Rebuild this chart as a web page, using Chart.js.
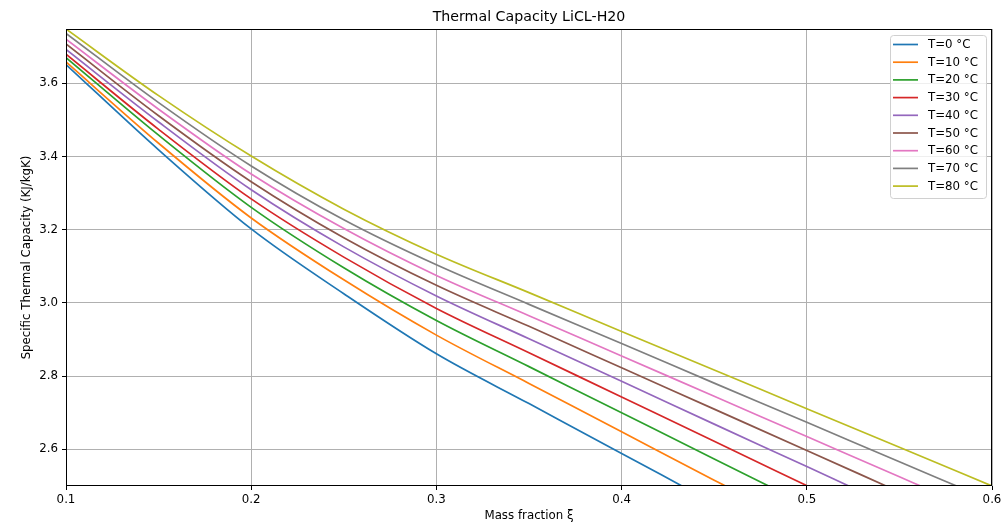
<!DOCTYPE html>
<html>
<head>
<meta charset="utf-8">
<title>Thermal Capacity LiCL-H20</title>
<script src="https://cdn.jsdelivr.net/npm/chart.js@4.4.0/dist/chart.umd.min.js"></script>
<style>
  html, body { margin:0; padding:0; background:#fff; }
  #chart { display:block; }
</style>
</head>
<body>
<canvas id="chart" width="1004" height="524"></canvas>
<script>
// Values (cp in kJ/kgK against mass fraction)
const XI = [0.10, 0.15, 0.20, 0.25, 0.30, 0.35, 0.40, 0.45, 0.50, 0.55];
const TEMPS = [0, 10, 20, 30, 40, 50, 60, 70, 80];

const CP_T0  = [3.651, 3.418, 3.202, 3.025, 2.861, 2.725, 2.589, null,  null,  null ];
const CP_T10 = [3.658, 3.436, 3.232, 3.063, 2.912, 2.780, 2.648, 2.516, null,  null ];
const CP_T20 = [3.670, 3.458, 3.261, 3.096, 2.952, 2.826, 2.700, 2.574, null,  null ];
const CP_T30 = [3.679, 3.474, 3.284, 3.125, 2.985, 2.864, 2.743, 2.622, null,  null ];
const CP_T40 = [3.692, 3.494, 3.309, 3.153, 3.019, 2.902, 2.786, 2.669, 2.553, null ];
const CP_T50 = [3.707, 3.511, 3.331, 3.178, 3.048, 2.936, 2.823, 2.710, 2.597, null ];
const CP_T60 = [3.720, 3.529, 3.352, 3.203, 3.075, 2.965, 2.855, 2.745, 2.635, 2.525];
const CP_T70 = [3.736, 3.547, 3.374, 3.227, 3.104, 2.996, 2.889, 2.781, 2.674, 2.566];
const CP_T80 = [3.748, 3.566, 3.401, 3.256, 3.133, 3.028, 2.922, 2.817, 2.711, 2.606];

// where each curve leaves the bottom of the axes (cp = 2.5)
const XI_END = [0.4326, 0.4561, 0.4794, 0.5004, 0.5227, 0.5428, 0.5615, 0.5809, 0.6000];
const CP_END = 2.5;

const X_TICKS = [0.1, 0.2, 0.3, 0.4, 0.5, 0.6];
const Y_TICKS = [2.6, 2.8, 3.0, 3.2, 3.4, 3.6];

const COLORS = ['#1f77b4','#ff7f0e','#2ca02c','#d62728','#9467bd','#8c564b','#e377c2','#7f7f7f','#bcbd22'];
const SERIES = [CP_T0, CP_T10, CP_T20, CP_T30, CP_T40, CP_T50, CP_T60, CP_T70, CP_T80];

const TITLE = 'Thermal Capacity LiCL-H20';
const FONT = 'DejaVu Sans';
const FS = 11.8;     // tick / label / legend size
const FS_TITLE = 14.2;

function buildPoints(vals, xEnd){
  const pts = [];
  vals.forEach((v,i)=>{ if(v !== null) pts.push({x: XI[i], y: v}); });
  pts.push({x: xEnd, y: CP_END});
  return pts;
}

const datasets = SERIES.map((vals,i)=>({
  label: `T=${TEMPS[i]} °C`,
  data: buildPoints(vals, XI_END[i]),
  borderColor: COLORS[i],
  backgroundColor: COLORS[i],
  borderWidth: 1.7,
  pointRadius: 0,
  fill: false,
  cubicInterpolationMode: 'monotone'
}));

// axes frame, title over the axes, legend box in the upper right
const frameAndLegend = {
  id: 'frameAndLegend',
  afterDatasetsDraw(chart){
    const {ctx, chartArea:a} = chart;
    ctx.save();
    ctx.strokeStyle = '#000';
    ctx.lineWidth = 1;
    const l = Math.round(a.left)+0.5, t = Math.round(a.top)+0.5;
    const r = Math.round(a.right)-0.5, b = Math.round(a.bottom)-0.5;
    ctx.strokeRect(l, t, r-l, b-t);

    // title centred on the axes
    ctx.fillStyle = '#000';
    ctx.font = `${FS_TITLE}px "${FONT}"`;
    ctx.textAlign = 'center';
    ctx.textBaseline = 'middle';
    ctx.fillText(TITLE, (a.left+a.right)/2, 17);

    // legend
    ctx.font = `${FS}px "${FONT}"`;
    const rowH = 17.7;
    const w = 96, h = 163;
    const x0 = Math.round(a.right - 6 - w);
    const y0 = Math.round(a.top + 6);

    ctx.beginPath();
    ctx.roundRect(x0+0.5, y0+0.5, w, h, 3);
    ctx.fillStyle = 'rgba(255,255,255,0.8)';
    ctx.fill();
    ctx.strokeStyle = '#d0d0d0';
    ctx.lineWidth = 1;
    ctx.stroke();

    ctx.textAlign = 'left';
    chart.data.datasets.forEach((d,i)=>{
      const cy = y0 + 9.5 + i*rowH;
      ctx.beginPath();
      ctx.moveTo(x0+3, cy);
      ctx.lineTo(x0+28, cy);
      ctx.strokeStyle = d.borderColor;
      ctx.lineWidth = 1.7;
      ctx.stroke();
      ctx.fillStyle = '#000';
      ctx.fillText(d.label, x0+38, cy+0.5);
    });
    ctx.restore();
  }
};

new Chart(document.getElementById('chart'), {
  type: 'line',
  data: { datasets },
  plugins: [frameAndLegend],
  options: {
    responsive: false,
    animation: false,
    devicePixelRatio: 1,
    layout: { padding: { left: 0, right: 12, top: 29, bottom: 0 } },
    plugins: {
      legend: { display: false },
      tooltip: { enabled: false },
      title: { display: false }
    },
    scales: {
      x: {
        type: 'linear',
        min: 0.1, max: 0.6,
        afterBuildTicks: s => { s.ticks = X_TICKS.map(v=>({value:v})); },
        afterFit: s => { s.height = 38; s.paddingLeft = 0; s.paddingRight = 0; },
        ticks: {
          color: '#000', padding: 3, maxRotation: 0,
          font: { family: FONT, size: FS },
          callback: v => v.toFixed(1)
        },
        grid: { color: '#b0b0b0', lineWidth: 1, tickLength: 4, tickColor: '#000' },
        border: { display: false },
        title: {
          display: true, text: 'Mass fraction ξ', color: '#000',
          font: { family: FONT, size: FS },
          padding: { top: 0, bottom: 1 }
        }
      },
      y: {
        type: 'linear',
        min: 2.5, max: 3.748,
        afterBuildTicks: s => { s.ticks = Y_TICKS.map(v=>({value:v})); },
        afterFit: s => { s.width = 66; s.paddingTop = 0; s.paddingBottom = 0; },
        ticks: {
          color: '#000', padding: 4,
          font: { family: FONT, size: FS },
          callback: v => v.toFixed(1)
        },
        grid: { color: '#b0b0b0', lineWidth: 1, tickLength: 4, tickColor: '#000' },
        border: { display: false },
        title: {
          display: true, text: 'Specific Thermal Capacity (KJ/kgK)', color: '#000',
          font: { family: FONT, size: FS },
          padding: { top: 20, bottom: 0 }
        }
      }
    }
  }
});
</script>
</body>
</html>
